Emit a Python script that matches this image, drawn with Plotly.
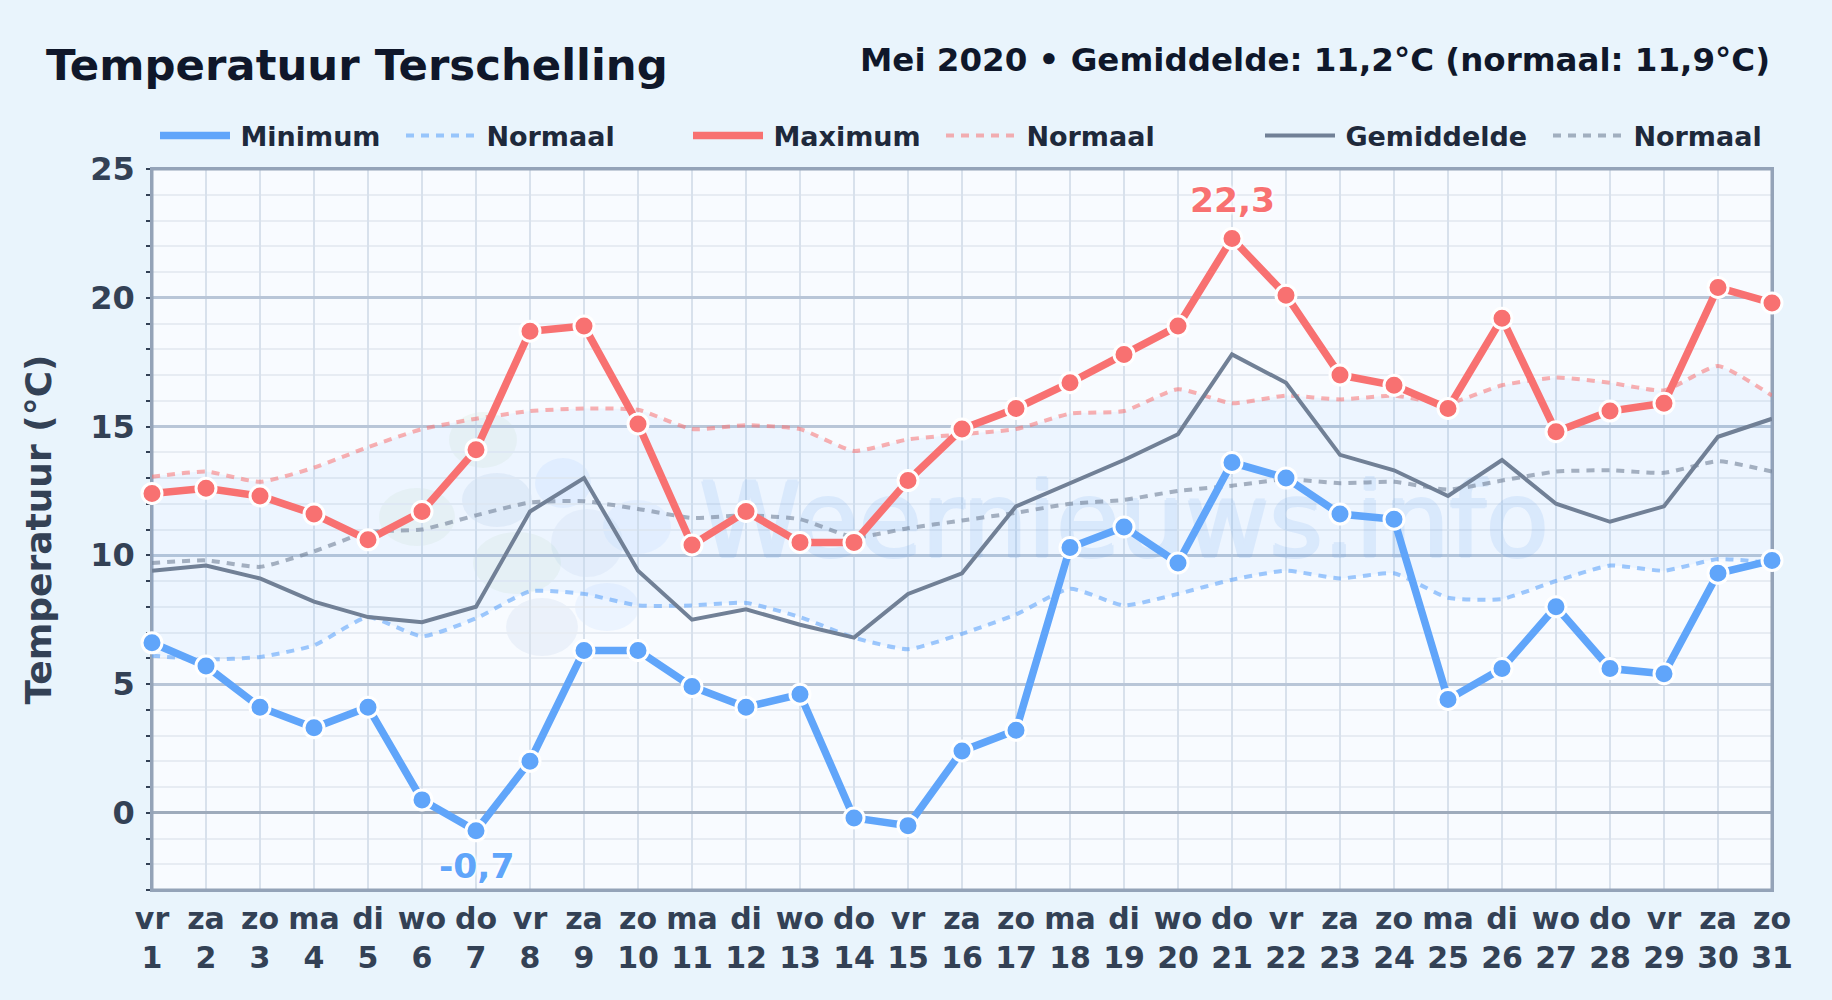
import plotly.graph_objects as go

days = list(range(1, 32))
weekdays = ["vr","za","zo","ma","di","wo","do","vr","za","zo","ma","di","wo","do","vr","za","zo","ma","di","wo","do","vr","za","zo","ma","di","wo","do","vr","za","zo"]
t_min = [6.6,5.7,4.1,3.3,4.1,0.5,-0.7,2.0,6.3,6.3,4.9,4.1,4.6,-0.2,-0.5,2.4,3.2,10.3,11.1,9.7,13.6,13.0,11.6,11.4,4.4,5.6,8.0,5.6,5.4,9.3,9.8]
t_max = [12.4,12.6,12.3,11.6,10.6,11.7,14.1,18.7,18.9,15.1,10.4,11.7,10.5,10.5,12.9,14.9,15.7,16.7,17.8,18.9,22.3,20.1,17.0,16.6,15.7,19.2,14.8,15.6,15.9,20.4,19.8]
t_avg = [9.4,9.6,9.1,8.2,7.6,7.4,8.0,11.7,13.0,9.4,7.5,7.9,7.3,6.8,8.5,9.3,11.9,12.8,13.7,14.7,17.8,16.7,13.9,13.3,12.3,13.7,12.0,11.3,11.9,14.6,15.3]
n_min = [6.1,5.95,6.05,6.5,7.6,6.85,7.55,8.6,8.5,8.05,8.05,8.15,7.6,6.8,6.35,6.95,7.7,8.7,8.05,8.5,9.05,9.4,9.1,9.3,8.35,8.3,9.0,9.6,9.4,9.85,9.7]
n_max = [13.05,13.25,12.85,13.4,14.2,14.9,15.3,15.6,15.7,15.65,14.9,15.05,14.9,14.05,14.5,14.7,14.9,15.5,15.6,16.45,15.9,16.2,16.05,16.2,15.9,16.6,16.9,16.7,16.4,17.35,16.2]
n_avg = [9.7,9.8,9.55,10.15,10.9,11.0,11.55,12.05,12.1,11.8,11.45,11.55,11.4,10.7,11.05,11.35,11.65,12.0,12.15,12.5,12.7,12.95,12.8,12.85,12.55,12.9,13.25,13.3,13.2,13.65,13.25]
tick_labels = [f"{w}<br>{d}" for w, d in zip(weekdays, days)]
y_major = [0, 5, 10, 15, 20, 25]
x_range = [1, 31]
y_range = [-3, 25]

BLUE = "#60a5fa"; RED = "#f87171"; GREY = "#718096"; FRAME = "#94a3b8"
FONT = "DejaVu Sans"
W, H = 1832, 1000
L, R, T, B = 152, 1772, 169, 890
SPLINE = dict(shape="spline", smoothing=0.5)
THIN = "\u2009"
WM = "#5a9beb"

fig = go.Figure()

# normal band
fig.add_trace(go.Scatter(x=days, y=n_min, mode="lines", line=dict(width=0, **SPLINE), showlegend=False, hoverinfo="skip"))
fig.add_trace(go.Scatter(x=days, y=n_max, mode="lines", line=dict(width=0, **SPLINE), fill="tonexty",
                         fillcolor="rgba(96,165,250,0.07)", showlegend=False, hoverinfo="skip"))
# watermark
fig.add_trace(go.Scatter(x=[19], y=[10.95], mode="text", text=["Weernieuws.info"], opacity=0.13,
                         textfont=dict(family=FONT, size=103, color=WM,
                                       shadow=f"1.5px 0 0 {WM}, -1.5px 0 0 {WM}, 0 1.5px 0 {WM}, 0 -1.5px 0 {WM}"),
                         showlegend=False, hoverinfo="skip", cliponaxis=False))

def line(y, name, color, width, dash, legend, smooth=False):
    ln = dict(color=color, width=width, dash=dash)
    if smooth:
        ln.update(SPLINE)
    fig.add_trace(go.Scatter(x=days, y=y, mode="lines", name=THIN + name, line=ln, legend=legend, cliponaxis=False))

D = "8px,7px"
line(n_min, "Normaal", "rgba(96,165,250,0.6)", 4, D, "legend2", True)
line(n_max, "Normaal", "rgba(248,113,113,0.55)", 4, D, "legend4", True)
line(n_avg, "Normaal", "rgba(113,128,150,0.6)", 4, D, "legend6", True)
line(t_avg, "Gemiddelde", GREY, 4, "solid", "legend5")
line(t_min, "Minimum", BLUE, 7.5, "solid", "legend")
line(t_max, "Maximum", RED, 7.5, "solid", "legend3")
for y, c in ((t_min, BLUE), (t_max, RED)):
    fig.add_trace(go.Scatter(x=days, y=y, mode="markers", showlegend=False, cliponaxis=False,
                             marker=dict(size=20, color=c, line=dict(color="white", width=3))))

# logo blobs of the watermark
blobs = [
    (483, 440, 34, 28, "rgba(134,190,120,0.07)"), (417, 517, 38, 29, "rgba(134,190,120,0.07)"),
    (497, 500, 35, 27, "rgba(70,120,180,0.08)"), (563, 483, 28, 25, "rgba(96,165,250,0.09)"),
    (517, 563, 44, 31, "rgba(134,190,120,0.07)"), (587, 543, 36, 34, "rgba(70,120,180,0.06)"),
    (637, 527, 34, 27, "rgba(96,165,250,0.08)"), (607, 607, 32, 24, "rgba(96,165,250,0.08)"),
    (542, 627, 36, 29, "rgba(70,120,180,0.07)"),
]
shapes = [dict(type="circle", xref="paper", yref="paper", layer="below",
               x0=(cx-rx-L)/(R-L), x1=(cx+rx-L)/(R-L),
               y0=(B-cy-ry)/(B-T), y1=(B-cy+ry)/(B-T),
               fillcolor=c, line_width=0) for cx, cy, rx, ry, c in blobs]
# inner half of the plot frame (the clip keeps the part inside the axes), over the grid
shapes.append(dict(type="rect", xref="x", yref="y", x0=x_range[0], x1=x_range[1], y0=y_range[0], y1=y_range[1],
                   layer="between", fillcolor="rgba(0,0,0,0)", line=dict(color=FRAME, width=3)))

def legend_at(px, py=136):
    return dict(x=(px-L)/(R-L), y=(B-py)/(B-T), xanchor="left", yanchor="middle", orientation="h",
                bgcolor="rgba(0,0,0,0)", itemwidth=70,
                font=dict(family=FONT, size=27, color="#1e293b", weight="bold"))

ANN = dict(xref="paper", yref="paper", showarrow=False)
halo = "0 0 4px white, 0 0 4px white, 0 0 4px white"
annotations = [
    dict(text="<b>Temperatuur Terschelling</b>", x=(44-L)/(R-L), y=(B-65)/(B-T), xanchor="left", yanchor="middle",
         font=dict(family=FONT, size=43.4, color="#0f172a"), **ANN),
    dict(text="<b>Mei 2020 • Gemiddelde: 11,2°C (normaal: 11,9°C)</b>", x=1, y=(B-60)/(B-T), xanchor="right", yanchor="middle",
         font=dict(family=FONT, size=32.5, color="#0f172a"), **ANN),
    dict(text="<b>22,3</b>", x=21, y=22.3, yshift=39, showarrow=False,
         font=dict(family=FONT, size=34.5, color=RED, shadow=halo)),
    dict(text="<b>-0,7</b>", x=7, y=-0.7, yshift=-35, showarrow=False,
         font=dict(family=FONT, size=34.5, color=BLUE, shadow=halo)),
]

AXIS_LINE = dict(showline=True, linecolor=FRAME, linewidth=1.5, mirror=True, layer="below traces")

fig.update_layout(
    width=W, height=H, autosize=False,
    margin=dict(l=L, r=W-R, t=T, b=H-B),
    paper_bgcolor="#e9f4fc", plot_bgcolor="#f8fbff",
    font=dict(family=FONT), hovermode=False,
    shapes=shapes, annotations=annotations,
    legend=legend_at(155), legend2=legend_at(401), legend3=legend_at(688),
    legend4=legend_at(941), legend5=legend_at(1260), legend6=legend_at(1548),
    xaxis=dict(range=x_range, tickmode="array", tickvals=days, ticktext=tick_labels,
               showgrid=True, gridcolor="#d8e1ec", gridwidth=1.5, zeroline=False,
               ticks="", ticklabelstandoff=1,
               tickangle=0, tickfont=dict(family=FONT, size=30, color="#334155", weight="bold"), **AXIS_LINE),
    yaxis=dict(range=y_range, tickmode="array", tickvals=y_major,
               showgrid=True, gridcolor="#b9c6d8", gridwidth=2.5,
               zeroline=True, zerolinecolor="#9eabbc", zerolinewidth=3,
               ticks="", ticklabelstandoff=9,
               minor=dict(dtick=1, tick0=0, showgrid=True, gridcolor="#e7ecf3", gridwidth=2,
                          ticks="outside", ticklen=4, tickcolor="#334155", tickwidth=1.5),
               tickfont=dict(family=FONT, size=32, color="#334155", weight="bold"),
               title=dict(text="Temperatuur (°C)", standoff=28,
                          font=dict(family=FONT, size=36, color="#334155", weight="bold")), **AXIS_LINE),
)
fig.write_html("out.html", config=dict(displayModeBar=False),
               post_script="document.body.style.margin='0';document.documentElement.style.overflow='hidden';")
